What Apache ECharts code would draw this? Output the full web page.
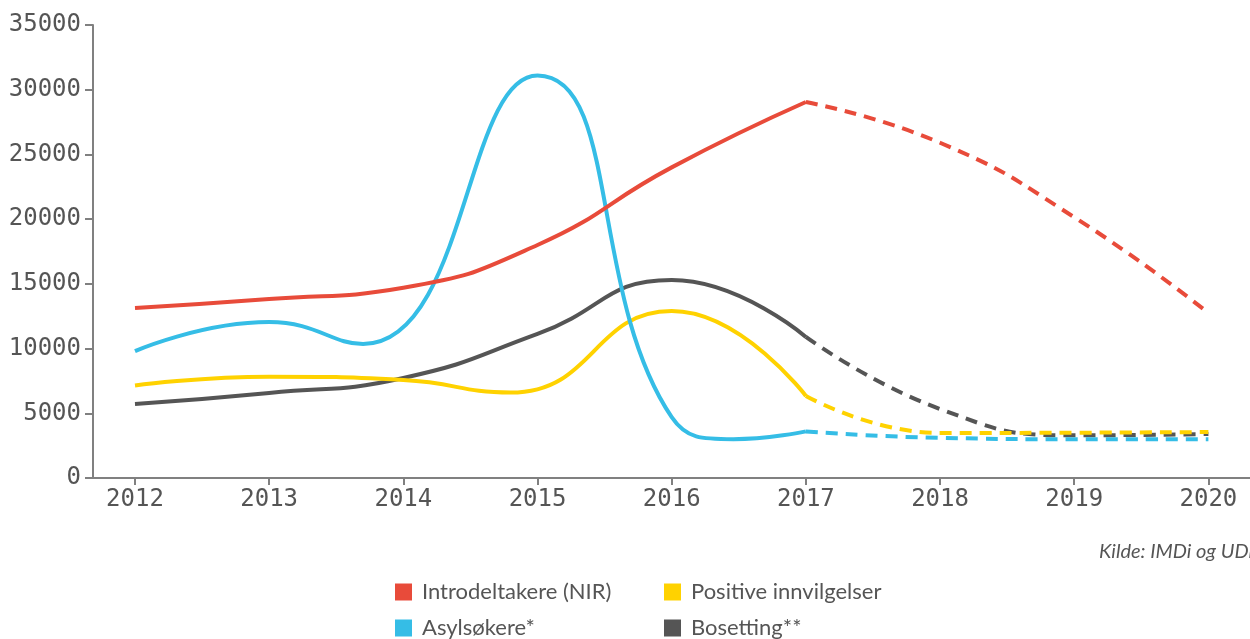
<!DOCTYPE html>
<html>
<head>
<meta charset="utf-8">
<script src="https://cdn.jsdelivr.net/npm/echarts@6/dist/echarts.min.js"></script>
<style>
  html, body { margin: 0; padding: 0; background: #fff; }
  #chart { width: 1250px; height: 639px; }
</style>
</head>
<body>
<div id="chart"></div>
<script>
  // verdier lest av figuren (år, antall); noen ekstra punkter der kurvene har topp/bunn
  const years = [2012, 2013, 2014, 2015, 2016, 2017, 2018, 2019, 2020];
  const lastActual = 2017; // etter dette: prognose (stiplet)

  const introX = [2012, 2013, 2014, 2015, 2016, 2017, 2018, 2019, 2020];
  const introY = [13130, 13830, 14700, 18000, 24000, 29050, 25900, 20150, 12750];

  const asylX = [2012, 2013, 2013.7, 2015, 2016, 2016.46, 2017, 2018, 2019, 2020];
  const asylY = [9800, 12050, 10350, 31100, 4700, 3000, 3600, 3100, 3000, 3000];

  const posX = [2012, 2013, 2014, 2014.8, 2016, 2017, 2018, 2019, 2020];
  const posY = [7150, 7830, 7570, 6600, 12900, 6340, 3480, 3500, 3550];

  const bosX = [2012, 2013, 2014, 2015, 2016, 2017, 2018, 2019, 2020];
  const bosY = [5720, 6570, 7730, 11130, 15300, 10900, 5330, 3300, 3400];

  const names = ['Introdeltakere (NIR)', 'Asylsøkere*', 'Positive innvilgelser', 'Bosetting**'];
  const colors = ['#e84b3a', '#35bde6', '#ffd200', '#555555'];
  const xs = [introX, asylX, posX, bosX];
  const ys = [introY, asylY, posY, bosY];

  const mono = '"DejaVu Sans Mono", monospace';
  const sans = 'Lato, "Noto Sans", sans-serif';

  function part(xArr, yArr, solid) {
    let out = [];
    xArr.forEach((x, i) => {
      if (solid ? x <= lastActual : x >= lastActual) out.push([x, yArr[i]]);
    });
    return out;
  }

  let series = [];
  names.forEach((name, k) => {
    series.push({
      name: name, type: 'line', smooth: 0.5, symbol: 'none', z: 10 - k,
      data: part(xs[k], ys[k], true),
      itemStyle: { color: colors[k] },
      lineStyle: { color: colors[k], width: 4 }
    });
    series.push({
      name: name, type: 'line', smooth: 0.5, symbol: 'none', z: 10 - k,
      data: part(xs[k], ys[k], false),
      itemStyle: { color: colors[k] },
      lineStyle: { color: colors[k], width: 4, type: [12, 8] }
    });
  });

  // én legend per post, to kolonner
  const legendPos = [[390, 576], [390, 612], [659, 576], [659, 612]];
  const legends = names.map((name, k) => ({
    left: legendPos[k][0], top: legendPos[k][1],
    data: [name], icon: 'rect', itemWidth: 17, itemHeight: 17,
    selectedMode: false,
    textStyle: { fontFamily: sans, fontSize: 22, color: '#555', padding: [0, 0, 0, 5] }
  }));

  let myChart = echarts.init(document.getElementById('chart'));
  myChart.setOption({
    animation: false,
    grid: { left: 93, right: 0, top: 25, bottom: 161, containLabel: false, outerBoundsMode: 'none' },
    xAxis: {
      type: 'value',
      min: 2011.687,
      max: 2020.31,
      splitLine: { show: false },
      axisLine: { lineStyle: { color: '#808080', width: 2 } },
      axisTick: { show: true, length: 7, customValues: years, lineStyle: { color: '#808080', width: 2 } },
      axisLabel: {
        customValues: years, margin: 10,
        color: '#555', fontFamily: mono, fontSize: 24,
        formatter: v => String(v)
      }
    },
    yAxis: {
      type: 'value',
      min: 0, max: 35000, interval: 5000,
      splitLine: { show: false },
      axisLine: { show: true, lineStyle: { color: '#808080', width: 2 } },
      axisTick: { show: true, length: 8, lineStyle: { color: '#808080', width: 2 } },
      axisLabel: { margin: 12, color: '#555', fontFamily: mono, fontSize: 24, formatter: v => String(v) }
    },
    legend: legends,
    graphic: [{
      type: 'text', right: -3, top: 542,
      style: {
        text: 'Kilde: IMDi og UDi',
        font: 'italic 20px ' + sans,
        fill: '#555'
      }
    }],
    series: series
  });
</script>
</body>
</html>
